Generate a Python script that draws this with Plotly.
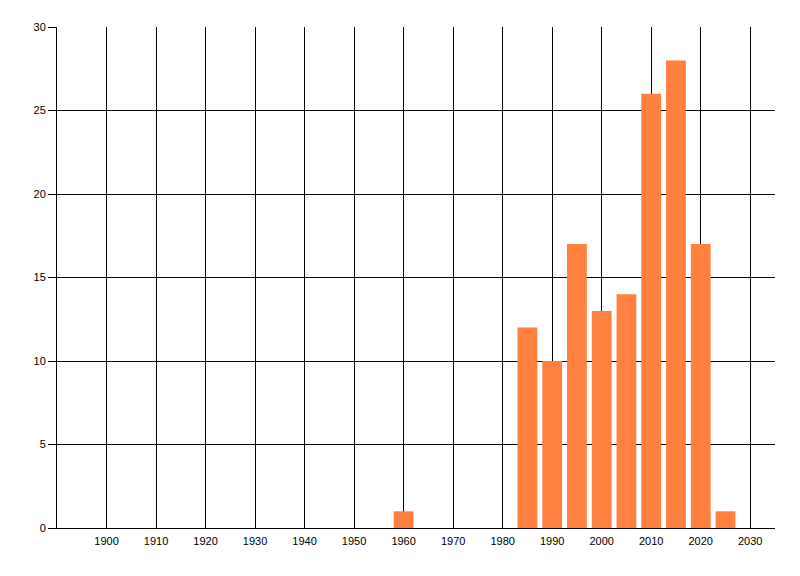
import plotly.graph_objects as go

years = [1960, 1985, 1990, 1995, 2000, 2005, 2010, 2015, 2020, 2025]
counts = [1, 12, 10, 17, 13, 14, 26, 28, 17, 1]
x_ticks = list(range(1900, 2031, 10))
y_ticks = [0, 5, 10, 15, 20, 25, 30]

fig = go.Figure(go.Bar(x=years, y=counts, width=4,
                       marker=dict(color="#ff8040", line=dict(width=0))))

fig.update_layout(
    width=792, height=568,
    margin=dict(l=49, r=25, t=19, b=48, autoexpand=False),
    paper_bgcolor="white", plot_bgcolor="white",
    font=dict(family="Liberation Sans, Arial, sans-serif", size=11, color="#000000"),
    showlegend=False,
    xaxis=dict(range=[1890, 2035], tickvals=x_ticks, ticktext=[str(v) for v in x_ticks],
               showgrid=True, gridcolor="#000000", gridwidth=1,
               showline=True, linecolor="#000000", linewidth=1,
               ticks="outside", ticklen=3, tickcolor="rgba(0,0,0,0)", zeroline=False),
    yaxis=dict(range=[0, 30], tickvals=y_ticks,
               showgrid=True, gridcolor="#000000", gridwidth=1,
               showline=True, linecolor="#000000", linewidth=1,
               ticks="outside", ticklen=8, tickcolor="#000000", zeroline=False),
)

fig.write_html("out.html")
